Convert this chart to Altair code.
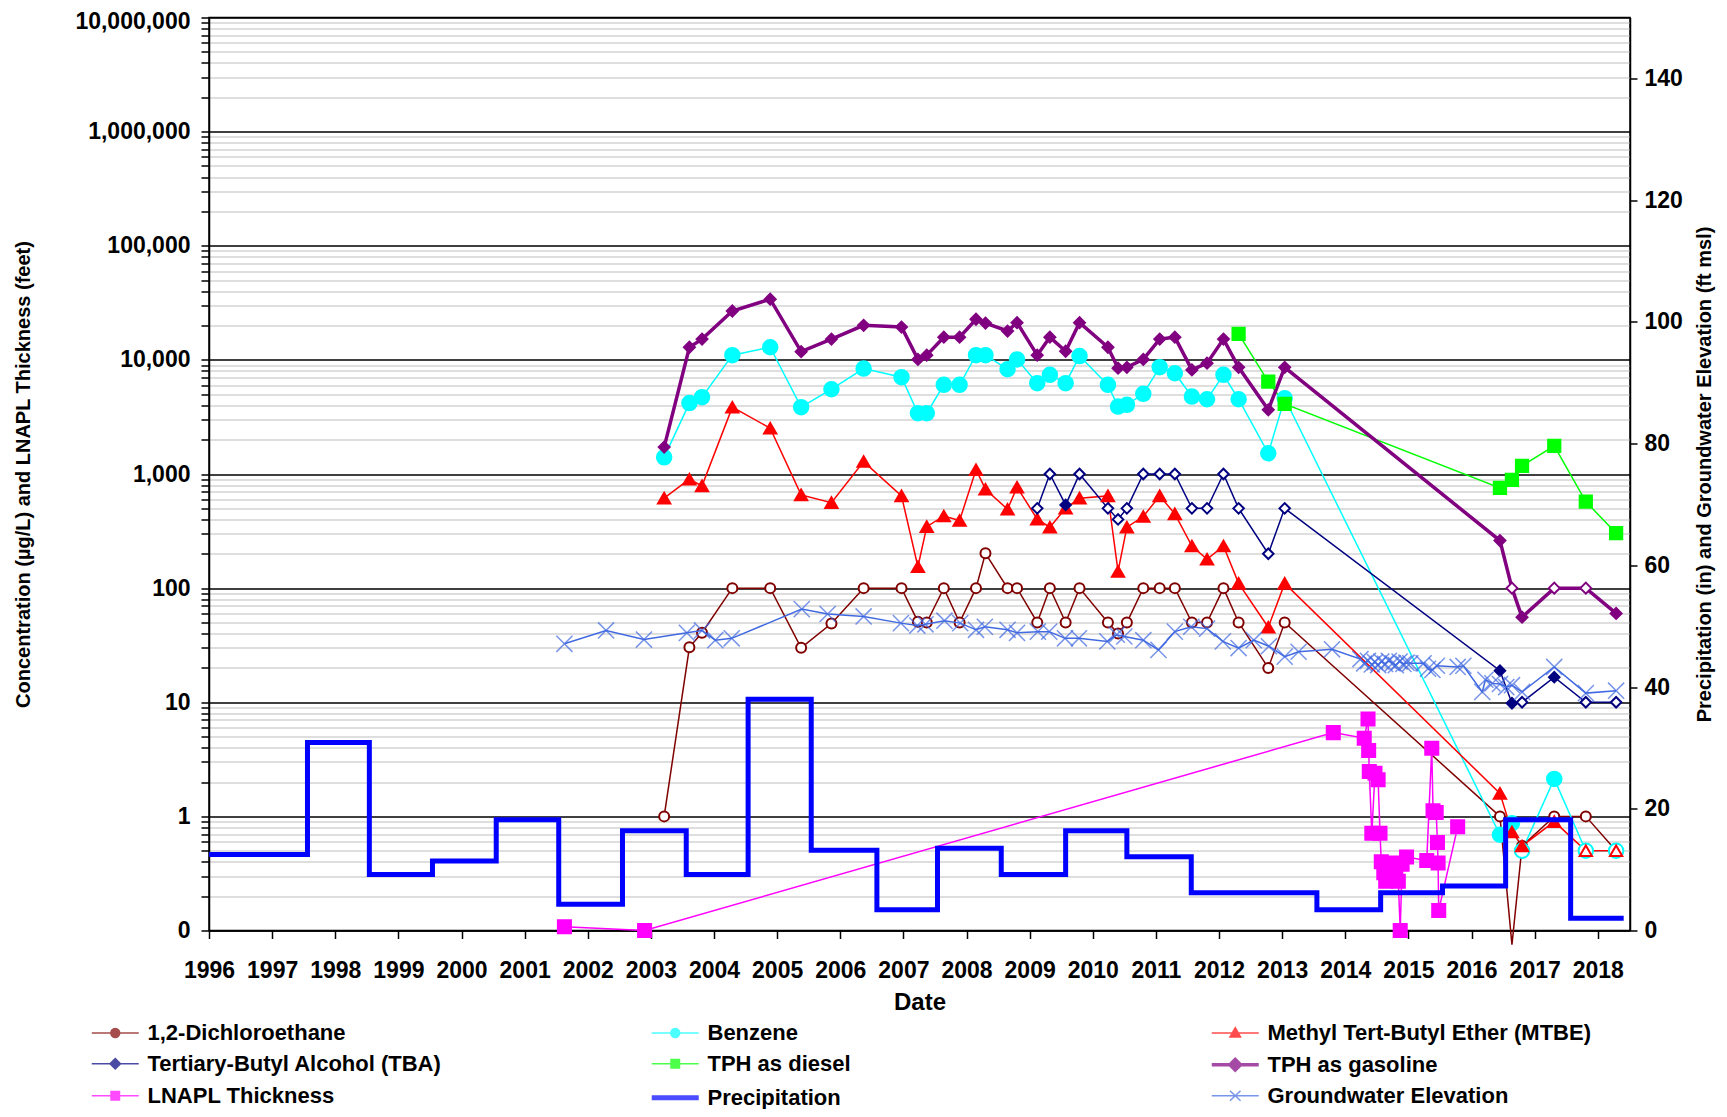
import altair as alt
import pandas as pd

FONT = "Liberation Sans"

# ---------------- series definitions ----------------
SERIES = ["1,2-Dichloroethane", "Benzene", "Methyl Tert-Butyl Ether (MTBE)",
          "Tertiary-Butyl Alcohol (TBA)", "TPH as diesel", "TPH as gasoline",
          "LNAPL Thickness", "Precipitation", "Groundwater Elevation"]
COLORS = ["#800000", "#00FFFF", "#FF0000", "#000080", "#00FF00", "#800080",
          "#FF00FF", "#0000FF", "#4169E1"]
LINE_WIDTH = [1.5, 1.5, 1.5, 1.5, 1.5, 3.5, 1.5, 5, 1.5]
MARKER_SIZE = [100, 210, 150, 110, 150, 120, 170]
# legend glyphs: a line segment with the series marker in its middle
CIRCLE_G = "M-1,0H3M0.62,0A0.38,0.38 0 1,0 1.38,0A0.38,0.38 0 1,0 0.62,0Z"
TRI_G = "M-1,0H3M1,-0.45L1.45,0.35L0.55,0.35Z"
DIAMOND_G = "M-1,0H3M1,-0.45L1.45,0L1,0.45L0.55,0Z"
SQUARE_G = "M-1,0H3M0.64,-0.36H1.36V0.36H0.64Z"
LINE_G = "M-1,0H3"
X_G = "M-1,0H3M0.55,-0.42L1.45,0.42M0.55,0.42L1.45,-0.42"
LEGEND_SHAPES = [CIRCLE_G, CIRCLE_G, TRI_G, DIAMOND_G, SQUARE_G, DIAMOND_G, SQUARE_G,
                 LINE_G, X_G]

# ---------------- sampling dates (decimal years) ----------------
SAMPLE_DATES = [2003.21, 2003.61, 2003.81, 2004.29, 2004.89, 2005.38, 2005.86, 2006.37,
                2006.97, 2007.23, 2007.37, 2007.64, 2007.89, 2008.15, 2008.30, 2008.65,
                2008.80, 2009.12, 2009.32, 2009.57, 2009.79, 2010.24, 2010.40, 2010.54,
                2010.80, 2011.06, 2011.30, 2011.57, 2011.81, 2012.07, 2012.31, 2012.78,
                2013.04, 2016.45, 2016.64, 2016.80, 2017.31, 2017.81, 2018.29]

GASOLINE = [1720, 12900, 15200, 26800, 34000, 11800, 15200, 20100, 19400, 10100, 11000,
            15800, 15800, 22700, 21000, 17900, 21200, 11000, 15800, 11900, 21200, 12900,
            8450, 8600, 10100, 15200, 15800, 8170, 9350, 15200, 8600, 3650, 8600, 261,
            100, 55.6, 100, 100, 60]
GASOLINE_ND = [2016.64, 2017.31, 2017.81]

BENZENE = [1400, 4180, 4710, 11000, 12900, 3850, 5530, 8390, 7050, 3410, 3410, 6040,
           6040, 11000, 11000, 8280, 10100, 6250, 7390, 6250, 10800, 6040, 3900, 4040,
           5040, 8630, 7640, 4770, 4520, 7390, 4520, 1520, 4610, 0.69, 0.87, 0.5, 2.13,
           0.5, 0.5]
BENZENE_ND = [2016.80, 2017.81, 2018.29]

MTBE = [614, 900, 787, 3850, 2520, 656, 561, 1285, 643, 154, 346, 429, 391, 1090, 736,
        491, 766, 402, 342, 501, 614, 643, 140, 342, 424, 643, 447, 234, 179, 234, 110,
        45.4, 110, 1.59, 0.73, 0.55, 0.90, 0.5, 0.5]
MTBE_ND = [2017.81, 2018.29]

DCA = [1.0, 30.3, 40.7, 100, 100, 30, 49, 100, 100, 50.8, 50, 100, 50, 100, 202, 100,
       100, 50, 100, 50, 100, 50, 40, 50, 100, 100, 100, 50, 50, 100, 50, 20, 50, 1.0,
       0.075, 0.55, 1.0, 1.0, 0.5]

TBA_DATES = SAMPLE_DATES[17:]
TBA = [500, 1000, 536, 1000, 500, 400, 500, 1000, 1000, 1000, 500, 500, 1000, 500, 200,
       500, 18.9, 9.8, 10, 16.6, 10, 10]
TBA_DETECTED = [2009.57, 2016.45, 2016.64, 2017.31]

DIESEL_DATES = [2012.31, 2012.78, 2013.04, 2016.45, 2016.64, 2016.80, 2017.31, 2017.81, 2018.29]
DIESEL = [16900, 6460, 4110, 755, 888, 1178, 1763, 573, 303]

LNAPL_DATES = [2001.63, 2002.90, 2013.81, 2014.30, 2014.36, 2014.37, 2014.38, 2014.42,
               2014.47, 2014.52, 2014.55, 2014.57, 2014.61, 2014.64, 2014.70, 2014.76,
               2014.80, 2014.84, 2014.87, 2014.90, 2014.97, 2015.29, 2015.37, 2015.39,
               2015.44, 2015.46, 2015.47, 2015.48, 2015.78]
LNAPL = [0.108, 0.1, 5.42, 4.84, 7.14, 3.77, 2.47, 0.71, 2.39, 2.09, 0.71, 0.40, 0.32,
         0.27, 0.35, 0.39, 0.30, 0.27, 0.1, 0.38, 0.44, 0.41, 3.96, 1.12, 1.08, 0.59,
         0.39, 0.15, 0.81]

GW_DATES = [2001.63, 2002.29, 2002.89, 2003.57, 2003.81, 2004.02, 2004.28, 2005.39,
            2005.80, 2006.37, 2006.96, 2007.22, 2007.35, 2007.65, 2007.90, 2008.15,
            2008.29, 2008.65, 2008.80, 2009.13, 2009.31, 2009.56, 2009.78, 2010.23,
            2010.38, 2010.50, 2010.80, 2011.04, 2011.30, 2011.56, 2011.81, 2012.06,
            2012.31, 2012.55, 2012.79, 2013.04, 2013.26, 2013.79, 2014.24, 2014.30,
            2014.36, 2014.42, 2014.47, 2014.52, 2014.57, 2014.63, 2014.69, 2014.75,
            2014.80, 2014.86, 2014.92, 2014.97, 2015.03, 2015.24, 2015.31, 2015.38,
            2015.45, 2015.78, 2015.87, 2016.17, 2016.22, 2016.33, 2016.45, 2016.55,
            2016.64, 2016.80, 2017.31, 2017.81, 2018.29]
GW_ELEV = [47.1, 49.3, 47.8, 48.9, 49.3, 47.7, 48.0, 52.8, 52.0, 51.6, 50.5, 50.1, 50.3,
           50.9, 50.5, 49.4, 49.9, 49.4, 48.9, 49.1, 49.1, 48.0, 48.0, 47.5, 48.6, 48.3,
           47.7, 46.1, 49.1, 49.9, 49.6, 47.5, 46.4, 47.7, 46.7, 45.0, 45.8, 46.2, 44.6,
           43.9, 44.3, 43.7, 44.1, 43.6, 44.2, 43.8, 44.3, 43.9, 43.6, 44.2, 43.8, 44.0,
           43.9, 43.9, 43.0, 42.8, 43.5, 43.3, 43.5, 39.2, 41.2, 40.6, 40.5, 40.0, 40.3,
           39.2, 43.3, 39.0, 39.4]

PRECIP_START = [1996.0, 1997.56, 1998.54, 1999.54, 2000.55, 2001.54, 2002.55, 2003.56,
                2004.54, 2005.54, 2006.58, 2007.54, 2008.55, 2009.57, 2010.54, 2011.56,
                2013.55, 2014.56, 2015.54, 2016.54, 2017.57, 2018.41]
PRECIP_IN = [12.5, 30.9, 9.2, 11.4, 18.2, 4.3, 16.4, 9.2, 38.0, 13.2, 3.4, 13.5, 9.2,
             16.4, 12.1, 6.2, 3.4, 6.2, 7.3, 18.2, 2.0, 2.0]

YEAR_TICKS = list(range(1996, 2019))
RIGHT_TICKS = list(range(0, 141, 20))
LEFT_TICKS = [round(m * 10.0 ** e, 10) for e in range(-1, 7) for m in range(1, 10)] + [1e7]

# ---------------- tables ----------------
frames = []


def add(name, dates, values, detect):
    df = pd.DataFrame({"year": dates, "value": values, "detect": detect})
    df["series"] = name
    frames.append(df)


add(SERIES[0], SAMPLE_DATES, DCA, [0] * len(SAMPLE_DATES))
add(SERIES[1], SAMPLE_DATES, BENZENE, [0 if d in BENZENE_ND else 1 for d in SAMPLE_DATES])
add(SERIES[2], SAMPLE_DATES, MTBE, [0 if d in MTBE_ND else 1 for d in SAMPLE_DATES])
add(SERIES[3], TBA_DATES, TBA, [1 if d in TBA_DETECTED else 0 for d in TBA_DATES])
add(SERIES[4], DIESEL_DATES, DIESEL, [1] * len(DIESEL_DATES))
add(SERIES[5], SAMPLE_DATES, GASOLINE, [0 if d in GASOLINE_ND else 1 for d in SAMPLE_DATES])
add(SERIES[6], LNAPL_DATES, LNAPL, [1] * len(LNAPL_DATES))
conc = pd.concat(frames, ignore_index=True)

precip = pd.DataFrame({"year": PRECIP_START, "r": PRECIP_IN})
gw = pd.DataFrame({"year": GW_DATES, "r": GW_ELEV})
legend_df = pd.DataFrame({"series": SERIES, "year": [1990] * len(SERIES), "value": [1] * len(SERIES)})

# ---------------- scales / encodings ----------------
color_scale = alt.Scale(domain=SERIES, range=COLORS)
stroke_scale = alt.Scale(domain=SERIES, range=COLORS)
sw_scale = alt.Scale(type="ordinal", domain=SERIES, range=LINE_WIDTH)
size_scale = alt.Scale(type="ordinal", domain=SERIES[:7], range=MARKER_SIZE)
shape_scale = alt.Scale(domain=SERIES, range=LEGEND_SHAPES)

X = alt.X("year:Q",
          scale=alt.Scale(domain=[1996, 2018.51], nice=False, zero=False),
          axis=alt.Axis(values=YEAR_TICKS, format="d", title="Date", labelFontSize=23,
                        labelPadding=21, tickSize=8, labelFlush=False, labelOverlap=False,
                        labelBound=False, grid=False, titleFontSize=24, titlePadding=8))

DEC = "abs(log(datum.value)/LN10 - round(log(datum.value)/LN10)) < 0.000001"
Y_LEFT = alt.Y("value:Q",
               scale=alt.Scale(type="log", domain=[0.1, 1e7], nice=False),
               axis=alt.Axis(values=LEFT_TICKS,
                             labelExpr="(" + DEC + ") ? (datum.value < 0.5 ? '0' : format(datum.value, ',')) : ''",
                             title="Concentration (µg/L) and LNAPL Thickness (feet)",
                             titleFontSize=20, titlePadding=41, labelFontSize=23,
                             labelPadding=11, tickSize=8, labelOverlap=False,
                             labelFlush=False, labelBound=False, grid=True,
                             labelOffset={"condition": {"test": "datum.value > 9000000", "value": 4}, "value": 0},
                             gridColor={"condition": {"test": DEC, "value": "black"}, "value": "#bdbdbd"},
                             gridWidth={"condition": {"test": DEC, "value": 1.6}, "value": 1.2}))

Y_RIGHT = alt.Y("r:Q",
                scale=alt.Scale(domain=[0, 150], nice=False, zero=False),
                axis=alt.Axis(orient="right", values=RIGHT_TICKS,
                              title="Precipitation (in) and Groundwater Elevation (ft msl)",
                              titleAngle=270, titleBaseline="top", titleFontSize=20,
                              titlePadding=12, labelFontSize=23, labelPadding=7,
                              tickSize=7, grid=False, labelOverlap=False, labelFlush=False))

LEG = alt.Legend(title=None, orient="none", direction="horizontal", legendX=-120,
                 legendY=1001.75, columns=3, gridAlign="all", columnPadding=170,
                 rowPadding=6, symbolSize=552.25, symbolFillColor="white",
                 labelFont=FONT, labelFontSize=22, labelFontWeight="bold",
                 labelColor="black", labelLimit=600, labelOffset=29.5, padding=0)

# ---------------- layers ----------------
# helper layer (its points are clipped away outside the plot) that carries the legend
legend_layer = alt.Chart(legend_df).mark_point(filled=True, clip=True).encode(
    x=X, y=Y_LEFT,
    color=alt.Color("series:N", scale=color_scale, legend=LEG),
    stroke=alt.Stroke("series:N", scale=stroke_scale, legend=LEG),
    shape=alt.Shape("series:N", scale=shape_scale, legend=LEG),
    strokeWidth=alt.StrokeWidth("series:O", scale=sw_scale, legend=LEG),
)

conc_lines = alt.Chart(conc).mark_line().encode(
    x=X, y=Y_LEFT,
    color=alt.Color("series:N", scale=color_scale, legend=None),
    strokeWidth=alt.StrokeWidth("series:O", scale=sw_scale, legend=None),
)


def points_layer(names, shape):
    return alt.Chart(conc).transform_filter(
        alt.FieldOneOfPredicate(field="series", oneOf=names)
    ).transform_filter("datum.value >= 0.1").mark_point(
        shape=shape, filled=True, strokeWidth=2, opacity=1
    ).encode(
        x=X, y=Y_LEFT,
        color=alt.condition("datum.detect == 1",
                            alt.Color("series:N", scale=color_scale, legend=None),
                            alt.value("white")),
        stroke=alt.Stroke("series:N", scale=stroke_scale, legend=None),
        size=alt.Size("series:N", scale=size_scale, legend=None),
    )


pts_circle = points_layer([SERIES[0], SERIES[1]], "circle")
pts_tri = points_layer([SERIES[2]], "triangle-up")
pts_diamond = points_layer([SERIES[3], SERIES[5]], "diamond")
pts_square = points_layer([SERIES[4], SERIES[6]], "square")

precip_line = alt.Chart(precip).mark_line(
    interpolate="step-after", color=COLORS[7], strokeWidth=5,
    strokeJoin="miter", strokeCap="butt"
).encode(x=X, y=Y_RIGHT)

gw_line = alt.Chart(gw).mark_line(color=COLORS[8], strokeWidth=1.5).encode(x=X, y=Y_RIGHT)
gw_points = alt.Chart(gw).mark_point(
    shape="M-1,-1L1,1M-1,1L1,-1", filled=False, color=COLORS[8], size=260, strokeWidth=1.5
).encode(x=X, y=Y_RIGHT)

left = alt.layer(legend_layer, conc_lines, pts_circle, pts_tri, pts_diamond, pts_square)
right = alt.layer(precip_line, gw_line, gw_points)

chart = alt.layer(left, right).resolve_scale(y="independent").properties(
    width=1421, height=913,
    padding={"left": 201, "top": 9.5, "right": 89, "bottom": 178},
    autosize=alt.AutoSizeParams(type="none"),
    background="white",
).configure_view(stroke="black", strokeWidth=1.5).configure_axis(
    labelFont=FONT, titleFont=FONT, labelFontWeight="bold", titleFontWeight="bold",
    labelColor="black", titleColor="black", domainColor="black", tickColor="black",
    domainWidth=1.5, tickWidth=1.5
)

chart.save("out.html", embed_options={"renderer": "svg", "actions": False})
